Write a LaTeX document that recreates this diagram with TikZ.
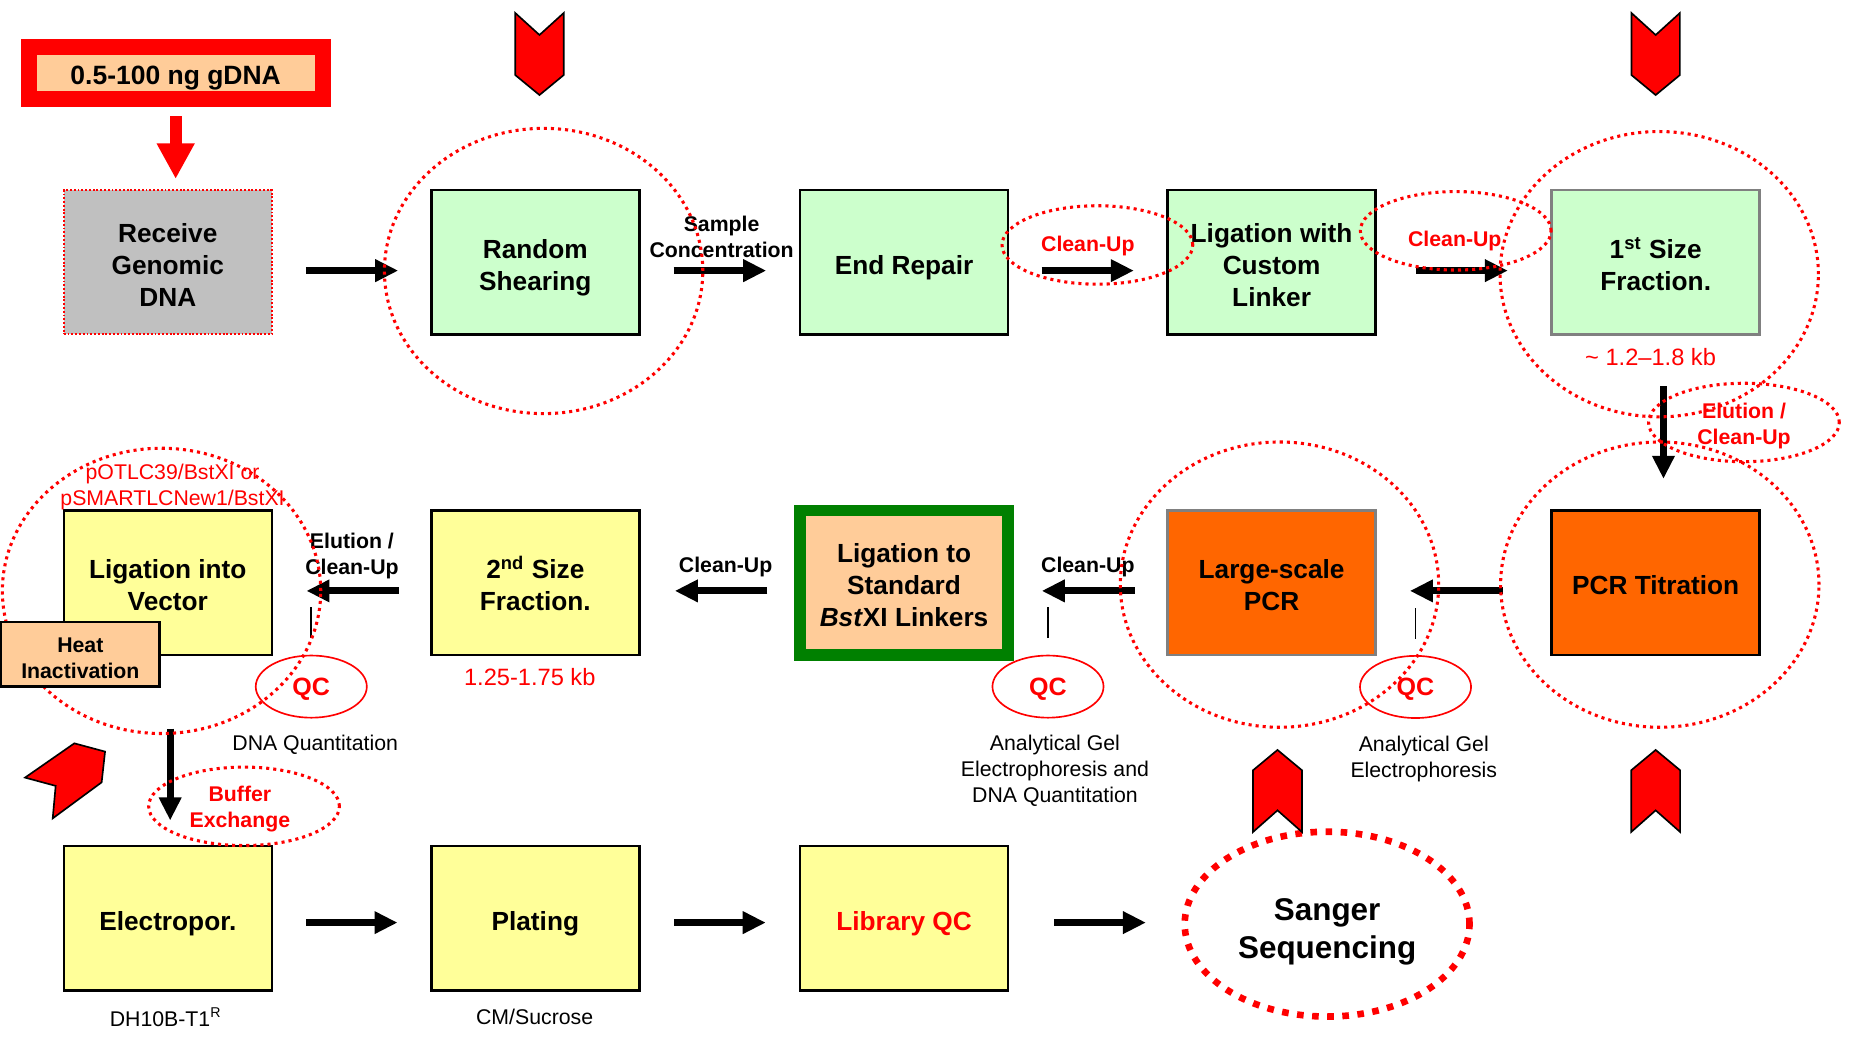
\documentclass[tikz,border=0pt]{standalone}
\usepackage{fontspec}
\setmainfont{Liberation Sans}
\usetikzlibrary{positioning,arrows.meta,shapes.geometric}

\definecolor{mintGreen}{HTML}{CCFFCC}
\definecolor{paleYellow}{HTML}{FFFF99}
\definecolor{pcrOrange}{HTML}{FF6600}
\definecolor{peach}{HTML}{FFCC99}
\definecolor{boxGray}{HTML}{C0C0C0}
\definecolor{linkGreen}{HTML}{008000}

% strut that lowers the text of a box a little
\newcommand{\boxStrut}[1][10.2pt]{\rule{0pt}{#1}}

\begin{document}
\begin{tikzpicture}[x=0.5pt,y=-0.5pt,node distance=155.5pt]
  \useasboundingbox (0,0) rectangle (1568,878);
  \tikzset{
    stepBox/.style={rectangle,draw=black,line width=1pt,minimum width=88pt,minimum height=61pt,inner sep=2pt,align=center,text depth=0pt,font=\fontsize{11.1}{13.5}\selectfont\bfseries},
    greenBox/.style={stepBox,fill=mintGreen},
    yellowBox/.style={stepBox,fill=paleYellow},
    orangeBox/.style={stepBox,fill=pcrOrange},
    % ring styles
    dotRing/.style={ellipse,draw=red,line width=1.3pt,dash pattern=on 1.3pt off 1.7pt,minimum width=80.7pt,minimum height=33.2pt,inner sep=0pt},
    bigRing/.style={dotRing,minimum width=134.7pt,minimum height=120.7pt},
    qcRing/.style={ellipse,draw=red,line width=0.7pt,minimum width=47pt,minimum height=26.3pt,inner sep=0pt,text=red,text depth=0pt,font=\fontsize{10.6}{12}\selectfont\bfseries},
    % arrow styles
    blockArrow/.style={line width=3pt,-{Triangle[width=9pt,length=9.75pt]}},
    redArrow/.style={draw=red,line width=5pt,-{Triangle[width=15pt,length=15pt]}},
    chevron/.style={fill=red,draw=black,line width=0.7pt,line join=miter},
    % label styles
    stepLabel/.style={align=center,inner sep=0pt,text depth=0pt,font=\fontsize{9}{11}\selectfont\bfseries},
    redLabel/.style={stepLabel,text=red},
    note/.style={align=center,inner sep=0pt,text depth=0pt,font=\fontsize{9}{11}\selectfont},
    redNote/.style={note,text=red,font=\fontsize{10}{12}\selectfont}
  }

  %%% Input sample
  \node[rectangle,draw=red,line width=6.75pt,fill=peach,minimum width=124.35pt,minimum height=21.85pt,inner sep=0pt,text depth=0pt,font=\fontsize{11.2}{13}\selectfont\bfseries] (gdna) at (148.65,61.65) {\boxStrut 0.5-100 ng gDNA};

  %%% First row
  \node[stepBox,fill=boxGray,draw=red,line width=0.8pt,dash pattern=on 0.8pt off 0.8pt] (recv) at (142,222) {\boxStrut Receive\\Genomic\\DNA};
  \node[greenBox] (shear) [right of=recv] {\boxStrut Random\\Shearing};
  \node[greenBox] (endr) [right of=shear, node distance=156pt] {\boxStrut End Repair};
  \node[greenBox] (ligc) [right of=endr] {\boxStrut Ligation with\\Custom\\Linker};
  \node[greenBox,draw=black!50] (frac1) [right of=ligc, node distance=162.5pt] {\boxStrut 1\textsuperscript{st} Size\\Fraction.};

  %%% Second row
  \node[orangeBox] (pcrT) [below of=frac1, node distance=135.5pt] {\boxStrut PCR Titration};
  \node[orangeBox,draw=black!50] (pcrL) [below of=ligc, node distance=135.5pt] {\boxStrut Large-scale\\PCR};
  \node[stepBox,fill=peach,draw=linkGreen,line width=5pt] (lstd) [below of=endr, node distance=135.5pt] {\boxStrut Ligation to\\Standard\\\textit{Bst}XI Linkers};
  \node[yellowBox] (frac2) [below of=shear, node distance=135.5pt] {\boxStrut 2\textsuperscript{nd} Size\\Fraction.};
  \node[yellowBox] (vec) [below of=recv, node distance=135.5pt] {\boxStrut Ligation into\\Vector};

  %%% Third row
  \node[yellowBox] (elp) [below of=vec, node distance=142pt] {\boxStrut Electropor.};
  \node[yellowBox] (plat) [below of=frac2, node distance=142pt] {\boxStrut Plating};
  \node[yellowBox,text=red] (libqc) [below of=lstd, node distance=142pt] {\boxStrut Library QC};
  \node[ellipse,draw=red,line width=2.8pt,dash pattern=on 2.8pt off 3.6pt,minimum width=120.5pt,minimum height=78.2pt,align=center,text depth=0pt,font=\fontsize{13.3}{16}\selectfont\bfseries] (sanger) at (1123,782) {\boxStrut[12.8pt]Sanger\\Sequencing};

  %%% Arrows
  \draw[redArrow,shorten <=4pt,shorten >=4.4pt] (gdna.south) -- (gdna.south |- recv.north);
  \foreach \a/\b/\s/\e in {recv/shear/14pt/13.5pt, shear/endr/14pt/13.8pt, endr/ligc/13.75pt/13.75pt, ligc/frac1/16.5pt/18pt}
    \draw[blockArrow,shorten <=\s,shorten >=\e] ([yshift=-3.5pt]\a.east) -- ([yshift=-3.5pt]\b.west);
  \draw[blockArrow,shorten <=21.4pt,shorten >=12.9pt] ([xshift=3.3pt]frac1.south) -- ([xshift=3.3pt]pcrT.north);
  \foreach \a/\b/\s/\e in {pcrT/pcrL/20pt/14pt, pcrL/lstd/13.5pt/11.75pt, lstd/frac2/11.3pt/14.5pt, frac2/vec/13.2pt/14.15pt}
    \draw[blockArrow,shorten <=\s,shorten >=\e] ([yshift=-3.5pt]\a.west) -- ([yshift=-3.5pt]\b.east);
  \draw[blockArrow,shorten <=30.75pt,shorten >=10.35pt] ([xshift=1pt]vec.south) -- ([xshift=1pt]elp.north);
  \foreach \a/\b/\s/\e in {elp/plat/14pt/13.8pt, plat/libqc/14.25pt/14pt}
    \draw[blockArrow,shorten <=\s,shorten >=\e] ([yshift=-1.85pt]\a.east) -- ([yshift=-1.85pt]\b.west);
  \draw[blockArrow,shorten <=19pt,shorten >=15pt] ([yshift=-1.85pt]libqc.east) -- ([yshift=-1.85pt]libqc.east -| sanger.west);

  %%% Labels
  \node[stepLabel] (sampleLbl) at (610.6,200.5) {Sample\\Concentration};
  \node[redLabel] (cleanA) at (920.5,205.9) {Clean-Up};
  \node[redLabel] (cleanB) at (1231,202.2) {Clean-Up};
  \node[redLabel] (elutA) at (1475.8,358.6) {Elution /\\Clean-Up};
  \node[redNote] (kbA) at (1396.7,301.8) {\textasciitilde{} 1.2--1.8 kb};
  \node[stepLabel] (cleanC) at (920.5,478) {Clean-Up};
  \node[stepLabel] (cleanD) at (614,478) {Clean-Up};
  \node[stepLabel] (elutB) at (297.8,468.2) {Elution /\\Clean-Up};
  \node[redNote] (kbB) at (448.3,573) {1.25-1.75 kb};
  \node[note,text=red] (vecName) at (146,410) {pOTLC39/BstXI or\\pSMARTLCNew1/BstXI};
  \node[redLabel] (bufLbl) at (203,682.7) {Buffer\\Exchange};
  \node[note] (strain) at (140.3,860.8) {DH10B-T1\textsuperscript{R}};
  \node[note] (media) at (452.4,860.8) {CM/Sucrose};

  %%% QC checks
  \node[qcRing] (qcA) at (1197.8,581.3) {QC};
  \node[qcRing] (qcB) at (886.8,581) {QC};
  \node[qcRing] (qcC) at (263.4,581) {QC};
  \foreach \q in {qcA,qcB,qcC}
    \draw[line width=0.8pt] ([yshift=7pt]\q.north) -- ++(0,13pt);
  \node[note] (gelA) at (1204.8,640) {Analytical Gel\\Electrophoresis};
  \node[note] (gelB) at (892.7,650.3) {Analytical Gel\\Electrophoresis and\\DNA Quantitation};
  \node[note] (quantC) at (266.7,628.4) {DNA Quantitation};

  %%% Dotted rings
  \node[bigRing] (ringShear) at (460,229.3) {};
  \node[bigRing] (ringFrac1) at (1404,232) {};
  \node[bigRing] (ringPcrT) at (1404.5,494.7) {};
  \node[bigRing] (ringPcrL) at (1082.7,494.7) {};
  \node[bigRing] (ringVec) at (136.7,500) {};
  \node[dotRing] (ringCleanA) at (928.6,207.3) {};
  \node[dotRing] (ringCleanB) at (1231.8,195.3) {};
  \node[dotRing] (ringElut) at (1475.7,357.5) {};
  \node[dotRing] (ringBuf) at (206.5,682.3) {};

  \node[stepBox,fill=peach,minimum width=67pt,minimum height=27.25pt,inner sep=0pt,font=\fontsize{9}{11}\selectfont\bfseries] (heat) at (68,553.7) {\boxStrut[9.5pt]Heat\\Inactivation};

  %%% Chevrons
  \foreach \cx in {456.5,1401}
    \draw[chevron] ({\cx-20.5},11) -- (\cx,29.6) -- ({\cx+20.5},11) -- ({\cx+20.5},63.5) -- (\cx,80.4) -- ({\cx-20.5},63.5) -- cycle;
  \foreach \cx in {1081,1401}
    \draw[chevron] (\cx,634.6) -- ({\cx+20.7},651.8) -- ({\cx+20.7},704) -- (\cx,685.7) -- ({\cx-20.7},704) -- ({\cx-20.7},651.8) -- cycle;
  \draw[chevron] (21.2,658) -- (62.9,629) -- (88.9,636) -- (86,662) -- (44.6,692.5) -- (47.1,665) -- cycle;

\end{tikzpicture}
\end{document}
